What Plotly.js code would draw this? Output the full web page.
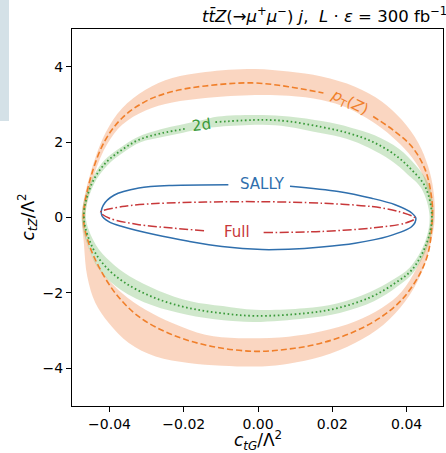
<!DOCTYPE html>
<html><head><meta charset="utf-8">
<script src="https://cdn.plot.ly/plotly-3.0.1.min.js"></script>
<style>html,body{margin:0;padding:0;background:#fff;} #chart{width:446px;height:453px;}</style>
</head><body><div id="chart"></div>
<script>
// ---- tick labels ----
const xTickVals = [-0.04, -0.02, 0, 0.02, 0.04];
const xTickText = ["−0.04", "−0.02", "0.00", "0.02", "0.04"];
const yTickVals = [-4, -2, 0, 2, 4];
const yTickText = ["−4", "−2", "0", "2", "4"];

// ---- SALLY contour (blue, solid) ----
const sallyX = [0.0086, 0.0216, 0.0306, 0.0369, 0.0414, 0.0425, 0.0414, 0.0350, 0.0261, 0.0171, 0.0082, 0.0011, -0.0097, -0.0187, -0.0276, -0.0366, -0.0402, -0.0421, -0.0417, -0.0388, -0.0321, -0.0231, -0.0080];
const sallyY = [0.83, 0.69, 0.51, 0.34, 0.12, -0.02, -0.24, -0.50, -0.68, -0.78, -0.84, -0.85, -0.77, -0.63, -0.46, -0.24, -0.11, 0.06, 0.32, 0.59, 0.78, 0.85, 0.87];

// ---- Full contour (red, dash-dot) ----
const fullX = [0.0015, 0.0171, 0.0306, 0.0396, 0.0423, 0.0378, 0.0306, 0.0171, 0.0005, -0.0142, -0.0276, -0.0366, -0.0424, -0.0400, -0.0321, -0.0231, -0.0145];
const fullY = [-0.40, -0.37, -0.28, -0.15, -0.02, 0.16, 0.29, 0.38, 0.42, 0.41, 0.37, 0.29, 0.14, -0.02, -0.19, -0.28, -0.35];

// ---- 2d contour (green, dotted) ----
const twoDX = [-0.0115, 0.0011, 0.0082, 0.0171, 0.0243, 0.0306, 0.0369, 0.0414, 0.0450, 0.0468, 0.0454, 0.0414, 0.0369, 0.0306, 0.0216, 0.0127, -0.0008, -0.0097, -0.0187, -0.0276, -0.0357, -0.0411, -0.0447, -0.0469, -0.0447, -0.0411, -0.0366, -0.0321, -0.0258, -0.0191];
const twoDY = [2.53, 2.59, 2.55, 2.40, 2.24, 2.02, 1.66, 1.26, 0.82, 0.03, -0.68, -1.39, -1.74, -2.10, -2.40, -2.54, -2.61, -2.54, -2.40, -2.14, -1.74, -1.30, -0.77, 0.03, 0.91, 1.44, 1.80, 2.06, 2.24, 2.36];
// 2d band
const twoDOuterX = [0.0473, 0.0459, 0.0425, 0.0380, 0.0314, 0.0248, 0.0175, 0.0083, 0.0011, -0.0107, -0.0155, -0.0208, -0.0262, -0.0325, -0.0370, -0.0416, -0.0451, -0.0475, -0.0456, -0.0424, -0.0369, -0.0285, -0.0191, -0.0099, -0.0008, 0.0129, 0.0220, 0.0312, 0.0375, 0.0419, 0.0459, 0.0473];
const twoDOuterY = [0.03, 0.88, 1.38, 1.82, 2.18, 2.39, 2.55, 2.68, 2.72, 2.68, 2.57, 2.46, 2.34, 2.13, 1.86, 1.50, 0.94, 0.03, -0.82, -1.43, -1.92, -2.33, -2.58, -2.72, -2.77, -2.67, -2.53, -2.22, -1.83, -1.45, -0.70, 0.03];
const twoDInnerX = [0.0462, 0.0440, 0.0402, 0.0358, 0.0298, 0.0238, 0.0168, 0.0080, 0.0011, -0.0104, -0.0150, -0.0202, -0.0255, -0.0318, -0.0362, -0.0406, -0.0442, -0.0464, -0.0437, -0.0398, -0.0346, -0.0268, -0.0182, -0.0095, -0.0008, 0.0124, 0.0212, 0.0300, 0.0363, 0.0408, 0.0449, 0.0462];
const twoDInnerY = [0.03, 0.77, 1.15, 1.51, 1.85, 2.09, 2.24, 2.41, 2.46, 2.41, 2.36, 2.25, 2.14, 1.99, 1.73, 1.38, 0.88, 0.03, -0.72, -1.17, -1.56, -1.94, -2.22, -2.35, -2.45, -2.41, -2.28, -1.98, -1.65, -1.33, -0.66, 0.03];

// ---- pT(Z) contour (orange, dashed) ----
const ptzX = [0.0310, 0.0369, 0.0414, 0.0450, 0.0468, 0.0469, 0.0458, 0.0432, 0.0387, 0.0333, 0.0261, 0.0171, 0.0082, -0.0008, -0.0124, -0.0231, -0.0321, -0.0384, -0.0429, -0.0456, -0.0470, -0.0447, -0.0411, -0.0366, -0.0303, -0.0231, -0.0142, -0.0016, 0.0082, 0.0176];
const ptzY = [2.68, 2.28, 1.88, 1.27, 0.47, -0.06, -0.94, -1.56, -2.18, -2.63, -3.02, -3.33, -3.49, -3.55, -3.42, -3.11, -2.63, -2.01, -1.30, -0.68, 0.03, 1.18, 2.06, 2.64, 3.08, 3.34, 3.49, 3.57, 3.47, 3.30];
// pT(Z) band
const ptzOuterX = [0.0476, 0.0472, 0.0458, 0.0432, 0.0387, 0.0333, 0.0261, 0.0171, 0.0082, -0.0008, -0.0142, -0.0231, -0.0303, -0.0366, -0.0411, -0.0451, -0.0474, -0.0469, -0.0460, -0.0438, -0.0402, -0.0348, -0.0276, -0.0187, -0.0097, 0.0011, 0.0082, 0.0171, 0.0261, 0.0337, 0.0396, 0.0438, 0.0463, 0.0476];
const ptzOuterY = [0.00, 0.73, 1.35, 1.97, 2.59, 3.08, 3.47, 3.74, 3.87, 3.94, 3.86, 3.70, 3.39, 2.90, 2.24, 1.18, 0.12, -0.68, -1.56, -2.27, -2.80, -3.33, -3.69, -3.86, -3.93, -3.95, -3.88, -3.69, -3.33, -2.85, -2.23, -1.52, -0.77, 0.00];
const ptzInnerX = [0.0466, 0.0458, 0.0441, 0.0405, 0.0360, 0.0306, 0.0243, 0.0171, 0.0082, -0.0008, -0.0142, -0.0231, -0.0303, -0.0366, -0.0406, -0.0440, -0.0465, -0.0465, -0.0447, -0.0411, -0.0366, -0.0303, -0.0231, -0.0142, -0.0052, 0.0082, 0.0171, 0.0261, 0.0333, 0.0387, 0.0427, 0.0454, 0.0466];
const ptzInnerY = [0.03, 0.65, 1.18, 1.71, 2.15, 2.55, 2.90, 3.12, 3.23, 3.25, 3.17, 3.05, 2.84, 2.46, 1.95, 1.18, 0.12, -0.41, -1.03, -1.56, -2.01, -2.45, -2.80, -3.11, -3.20, -3.16, -3.02, -2.76, -2.40, -1.96, -1.34, -0.68, 0.03];

// ---- contour labels ----
const labelText = ["SALLY", "Full", "2d", "<i>p</i><sub>T</sub>(<i>Z</i>)"];
const labelX = [0.0011, -0.0058, -0.0153, 0.0247];
const labelY = [0.88, -0.38, 2.45, 3.04];

const C_BLUE = "#2f6fad", C_RED = "#c8383a", C_GREEN = "#3a9a3a", C_ORANGE = "#f07f2a";
const FONT = "DejaVu Sans, sans-serif";

const traces = [
  {x: ptzInnerX, y: ptzInnerY, mode: "lines", line: {width: 0, shape: "spline", smoothing: 1}, hoverinfo: "skip", showlegend: false},
  {x: ptzOuterX, y: ptzOuterY, mode: "lines", fill: "tonext", fillcolor: "rgba(238,120,50,0.30)", line: {width: 0, shape: "spline", smoothing: 1}, hoverinfo: "skip", showlegend: false},
  {x: twoDInnerX, y: twoDInnerY, mode: "lines", line: {width: 0, shape: "spline", smoothing: 1}, hoverinfo: "skip", showlegend: false},
  {x: twoDOuterX, y: twoDOuterY, mode: "lines", fill: "tonext", fillcolor: "rgba(67,163,51,0.25)", line: {width: 0, shape: "spline", smoothing: 1}, hoverinfo: "skip", showlegend: false},
  {x: ptzX, y: ptzY, mode: "lines", line: {color: C_ORANGE, width: 1.6, dash: "6px,3px", shape: "spline", smoothing: 1}, hoverinfo: "skip", showlegend: false},
  {x: twoDX, y: twoDY, mode: "lines", line: {color: C_GREEN, width: 1.8, dash: "1.6px,2.6px", shape: "spline", smoothing: 1}, hoverinfo: "skip", showlegend: false},
  {x: sallyX, y: sallyY, mode: "lines", line: {color: C_BLUE, width: 1.5, shape: "spline", smoothing: 0.9}, hoverinfo: "skip", showlegend: false},
  {x: fullX, y: fullY, mode: "lines", line: {color: C_RED, width: 1.5, dash: "9px,2.6px,1.6px,2.6px", shape: "spline", smoothing: 0.9}, hoverinfo: "skip", showlegend: false}
];

const labelColors = [C_BLUE, C_RED, C_GREEN, C_ORANGE];
const labelAngles = [0, 0, -8, 26];
const annotations = labelText.map((t, i) => ({
  x: labelX[i], y: labelY[i], xref: "x", yref: "y", text: t, showarrow: false,
  textangle: labelAngles[i], font: {family: FONT, size: 15, color: labelColors[i]},
  xanchor: "center", yanchor: "middle"
}));

annotations.push({
  xref: "paper", yref: "paper", x: 1.016, y: 1.0, yanchor: "bottom", xanchor: "right", yshift: 1,
  showarrow: false,
  text: "<i>t</i><i>t̄</i><i>Z</i>(→<i>μ</i><sup>+</sup><i>μ</i><sup>−</sup>)<i> j</i>,  <i>L</i> · <i>ε</i> = 300 fb<sup>−1</sup>",
  font: {family: FONT, size: 16.5, color: "#000"}
});
annotations.push({
  xref: "paper", yref: "paper", x: 0.5, y: 0, yanchor: "top", xanchor: "center", yshift: -20,
  showarrow: false, text: "<i>c</i><sub><i>tG</i></sub>/Λ<sup>2</sup>",
  font: {family: FONT, size: 17, color: "#000"}
});
annotations.push({
  xref: "paper", yref: "paper", x: 0, y: 0.5, yanchor: "middle", xanchor: "center", xshift: -44,
  showarrow: false, textangle: -90, text: "<i>c</i><sub><i>tZ</i></sub>/Λ<sup>2</sup>",
  font: {family: FONT, size: 17, color: "#000"}
});

const axisCommon = {
  showgrid: false, zeroline: false, showline: true, mirror: true, linecolor: "#000", linewidth: 1,
  ticks: "outside", ticklen: 5, tickwidth: 1, tickcolor: "#000",
  tickfont: {family: FONT, size: 14, color: "#000"}, fixedrange: true
};

const layout = {
  width: 446, height: 453,
  margin: {l: 72, r: 3, t: 29, b: 47, pad: 0},
  paper_bgcolor: "#fff", plot_bgcolor: "#fff",
  xaxis: Object.assign({}, axisCommon, {range: [-0.0501, 0.0498], tickvals: xTickVals, ticktext: xTickText}),
  yaxis: Object.assign({}, axisCommon, {range: [-5, 5], tickvals: yTickVals, ticktext: yTickText}),
  annotations: annotations,
  shapes: [{type: "rect", xref: "paper", yref: "paper", x0: -0.1941, x1: -0.1698, y0: 0.756, y1: 1.077,
            fillcolor: "#d4e1e7", line: {width: 0}, layer: "below"}],
  showlegend: false
};

Plotly.newPlot("chart", traces, layout, {displayModeBar: false, staticPlot: true});
</script>
</body></html>
